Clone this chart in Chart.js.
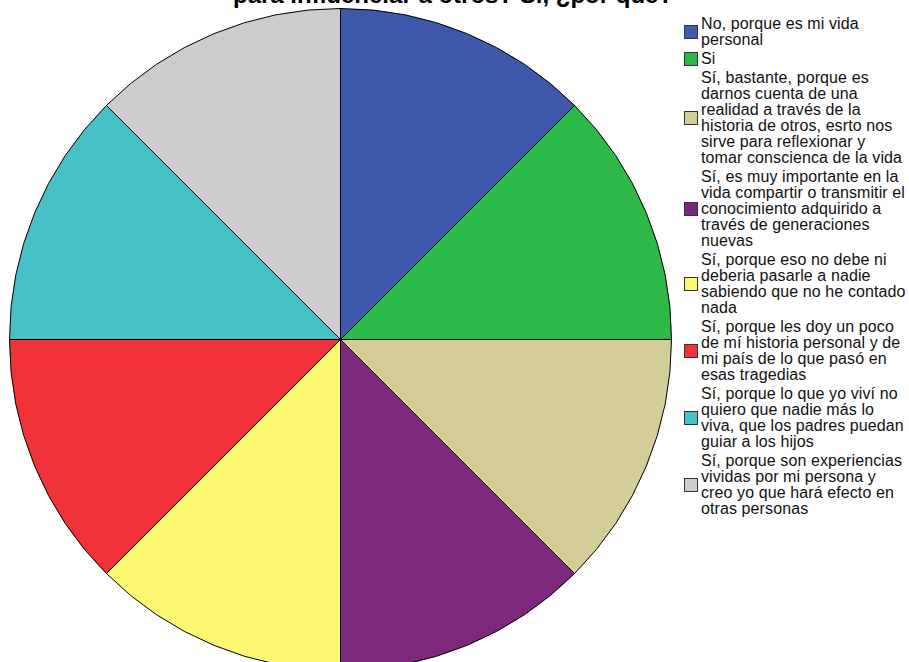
<!DOCTYPE html>
<html>
<head>
<meta charset="utf-8">
<script src="https://cdn.jsdelivr.net/npm/chart.js@4"></script>
<style>
  body { margin: 0; background: #fff; width: 909px; height: 662px; overflow: hidden; position: relative; font-family: "Liberation Sans", Arial, sans-serif; }
  #title { position: absolute; top: -17px; left: 233px; font-weight: bold; font-size: 24px; line-height: 24px; color: #000; white-space: nowrap; }
  #wrap { position: absolute; left: 9px; top: 8px; width: 663px; height: 663px; }
  #legend { position: absolute; left: 684px; top: 16px; width: 230px; }
  .item { display: flex; align-items: center; margin-bottom: 3px; }
  .box { width: 12px; height: 12px; border: 1px solid #333; flex: none; margin-right: 3px; }
  .txt { font-size: 16px; line-height: 16px; color: #111; white-space: nowrap; letter-spacing: 0.1px; }
</style>
</head>
<body>
<div id="title">para influenciar a otros? Si, ¿por qué?</div>
<div id="wrap"><canvas id="myChart"></canvas></div>
<div id="legend"></div>
<script>
// ========== data (labels split as in the original legend)
const categories = [
  ["No, porque es mi vida", "personal"],
  ["Si"],
  ["Sí, bastante, porque es", "darnos cuenta de una", "realidad a través de la", "historia de otros, esrto nos", "sirve para reflexionar y", "tomar conscienca de la vida"],
  ["Sí, es muy importante en la", "vida compartir o transmitir el", "conocimiento adquirido a", "través de generaciones", "nuevas"],
  ["Sí, porque eso no debe ni", "deberia pasarle a nadie", "sabiendo que no he contado", "nada"],
  ["Sí, porque les doy un poco", "de mí historia personal y de", "mi país de lo que pasó en", "esas tragedias"],
  ["Sí, porque lo que yo viví no", "quiero que nadie más lo", "viva, que los padres puedan", "guiar a los hijos"],
  ["Sí, porque son experiencias", "vividas por mi persona y", "creo yo que hará efecto en", "otras personas"]
]
const counts = [1, 1, 1, 1, 1, 1, 1, 1]
const colors = ['#3E58AC', '#2EB848', '#D3CE97', '#7C287D', '#FBF873', '#EF3338', '#48C1C6', '#CCCCCC']

// ========== setup chartjs
var ctx1 = document.getElementById('myChart').getContext('2d');
let myChart = new Chart(ctx1, {
type: 'pie',
data: {
	labels: categories,
	datasets: [{
		data: counts,
		backgroundColor: colors,
		borderColor: '#000',
		borderWidth: 1
	}]
},
options: {
	responsive: true,
	maintainAspectRatio: false,
	animation: false,
	layout: { padding: 0 },
	plugins: {
		legend: { display: false },
		tooltip: { enabled: false },
		title: { display: false }
	}
}
});

// ========== html legend built from the chart data
let legendDiv = document.getElementById('legend');
myChart.data.labels.forEach((lbl, i) => {
	let item = document.createElement('div');
	item.className = 'item';
	let box = document.createElement('div');
	box.className = 'box';
	box.style.background = myChart.data.datasets[0].backgroundColor[i];
	let txt = document.createElement('div');
	txt.className = 'txt';
	lbl.forEach((line, j) => {
		if (j > 0) txt.appendChild(document.createElement('br'));
		txt.appendChild(document.createTextNode(line));
	});
	item.appendChild(box);
	item.appendChild(txt);
	legendDiv.appendChild(item);
});
</script>
</body>
</html>
